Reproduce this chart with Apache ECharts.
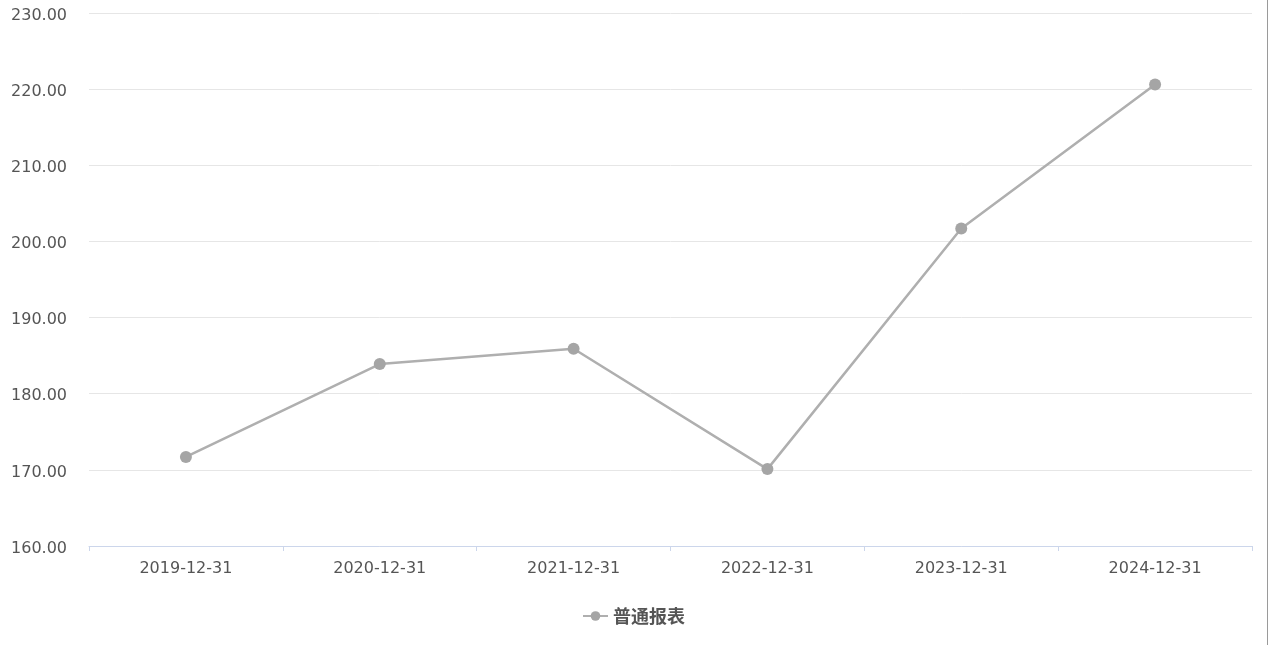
<!DOCTYPE html>
<html><head><meta charset="utf-8">
<script src="https://cdn.jsdelivr.net/npm/echarts@6/dist/echarts.min.js"></script>
<style>html,body{margin:0;padding:0;background:#fff;}#c{width:1267px;height:645px;border-right:1px solid #9a9a9a;}</style>
</head><body><div id="c"></div>
<script>
const categories = ['2019-12-31','2020-12-31','2021-12-31','2022-12-31','2023-12-31','2024-12-31'];
const seriesName = '普通报表';
const values = [171.7, 183.9, 185.9, 170.1, 201.7, 220.6];
const yMin = 160, yMax = 230, yInterval = 10;
const font = '"DejaVu Sans", sans-serif';
const cjkFont = '"Noto Sans CJK SC", sans-serif';
const chart = echarts.init(document.getElementById('c'));
chart.setOption({
  animation: false,
  grid: {left: 89, right: 15, top: 13, bottom: 99, containLabel: false},
  legend: {
    bottom: 15, left: 'center',
    itemWidth: 25, itemHeight: 12, itemGap: 8,
    textStyle: {fontFamily: cjkFont, fontSize: 18, fontWeight: 'bold', color: '#555'},
    data: [seriesName]
  },
  xAxis: {
    type: 'category', data: categories, boundaryGap: true,
    axisLine: {lineStyle: {color: '#ccd6eb'}},
    axisTick: {show: true, lineStyle: {color: '#ccd6eb'}, length: 5},
    axisLabel: {fontFamily: font, fontSize: 16, color: '#555', margin: 15}
  },
  yAxis: {
    type: 'value', min: yMin, max: yMax, interval: yInterval,
    axisLine: {show: false}, axisTick: {show: false},
    splitLine: {lineStyle: {color: '#e6e6e6'}},
    axisLabel: {
      fontFamily: font, fontSize: 16, color: '#555', margin: 22,
      formatter: v => '{a|' + v.toFixed(2) + '}',
      rich: {a: {fontFamily: font, fontSize: 16, color: '#555', padding: [5, 0, 0, 0]}}
    }
  },
  series: [{
    name: seriesName, type: 'line', data: values,
    symbol: 'circle', symbolSize: 12,
    itemStyle: {color: '#a5a5a5'},
    lineStyle: {color: '#afafaf', width: 2.5}
  }]
});
</script></body></html>
